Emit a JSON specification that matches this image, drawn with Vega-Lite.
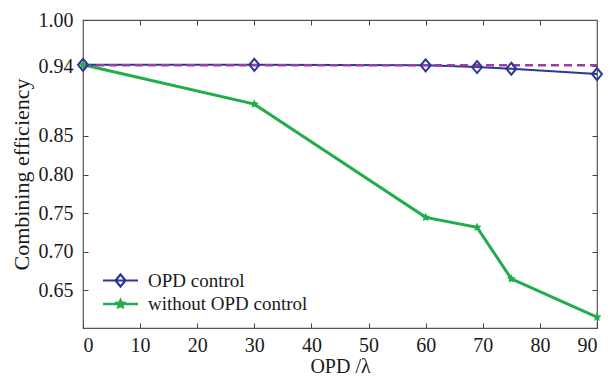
{
  "$schema": "https://vega.github.io/schema/vega-lite/v6.json",
  "width": 514,
  "height": 308,
  "autosize": {"type": "none"},
  "padding": {"left": 83, "top": 20, "right": 13, "bottom": 48},
  "background": "white",
  "config": {
    "view": {"stroke": "#555555", "strokeWidth": 1.2},
    "font": "Liberation Serif",
    "axis": {
      "domain": false,
      "grid": false,
      "tickSize": -5,
      "tickColor": "#444444",
      "tickWidth": 1,
      "labelFont": "Liberation Serif",
      "labelFontSize": 20,
      "labelColor": "#1a1a1a",
      "titleFont": "Liberation Serif",
      "titleFontSize": 20,
      "titleFontWeight": "normal",
      "titleColor": "#1a1a1a"
    },
    "legend": {"labelFont": "Liberation Serif", "labelFontSize": 19, "labelColor": "#1a1a1a"}
  },
  "data": {
    "values": [
      {"series": "OPD control", "opd": 0, "eff": 0.942},
      {"series": "OPD control", "opd": 30, "eff": 0.942},
      {"series": "OPD control", "opd": 60, "eff": 0.9413},
      {"series": "OPD control", "opd": 69, "eff": 0.9391},
      {"series": "OPD control", "opd": 75, "eff": 0.9369},
      {"series": "OPD control", "opd": 90, "eff": 0.930},
      {"series": "without OPD control", "opd": 0, "eff": 0.942},
      {"series": "without OPD control", "opd": 30, "eff": 0.8912},
      {"series": "without OPD control", "opd": 60, "eff": 0.7446},
      {"series": "without OPD control", "opd": 69, "eff": 0.7317},
      {"series": "without OPD control", "opd": 75, "eff": 0.665},
      {"series": "without OPD control", "opd": 90, "eff": 0.6154},
      {"series": "ideal", "opd": 0, "eff": 0.9415},
      {"series": "ideal", "opd": 90, "eff": 0.9415}
    ]
  },
  "layer": [
    {
      "transform": [{"filter": "datum.series === 'without OPD control'"}],
      "mark": {"type": "line", "color": "#1fae4b", "strokeWidth": 3},
      "encoding": {
        "x": {"field": "opd", "type": "quantitative", "scale": {"domain": [0, 90], "nice": false},
          "axis": {"orient": "bottom", "values": [0, 10, 20, 30, 40, 50, 60, 70, 80, 90], "title": "OPD /λ", "labelPadding": 12, "titlePadding": 1}},
        "y": {"field": "eff", "type": "quantitative", "scale": {"domain": [0.6014, 1.0], "nice": false, "zero": false},
          "axis": {"orient": "left", "values": [0.65, 0.7, 0.75, 0.8, 0.85, 0.94, 1.0], "format": ".2f", "title": "Combining efficiency", "titleFontSize": 22, "labelPadding": 15, "titlePadding": 5}}
      }
    },
    {
      "transform": [{"filter": "datum.series === 'OPD control'"}],
      "mark": {"type": "line", "color": "#2d3595", "strokeWidth": 2},
      "encoding": {
        "x": {"field": "opd", "type": "quantitative", "axis": null},
        "y": {"field": "eff", "type": "quantitative", "axis": null}
      }
    },
    {
      "transform": [{"filter": "datum.series === 'ideal'"}],
      "mark": {"type": "line", "color": "#9a3ea8", "strokeWidth": 2.5, "strokeDash": [8, 5]},
      "encoding": {
        "x": {"field": "opd", "type": "quantitative", "axis": null},
        "y": {"field": "eff", "type": "quantitative", "axis": null}
      }
    },
    {
      "transform": [{"filter": "datum.series === 'without OPD control'"}],
      "mark": {"type": "point", "shape": "M0,-1L0.294,-0.405L0.951,-0.309L0.476,0.155L0.588,0.809L0,0.5L-0.588,0.809L-0.476,0.155L-0.951,-0.309L-0.294,-0.405Z", "filled": true, "size": 85, "opacity": 1},
      "encoding": {
        "x": {"field": "opd", "type": "quantitative", "axis": null},
        "y": {"field": "eff", "type": "quantitative", "axis": null},
        "fill": {"field": "series", "type": "nominal",
          "scale": {"domain": ["without OPD control"], "range": ["#1fae4b"]},
          "legend": {
            "orient": "none", "legendX": 28, "legendY": 274.5, "title": null,
            "labelFont": "Liberation Serif", "labelFontSize": 19, "labelColor": "#1a1a1a",
            "symbolType": "M-3.5,0H3.5M0,-0.7L0.206,-0.284L0.666,-0.216L0.333,0.108L0.412,0.566L0,0.35L-0.412,0.566L-0.333,0.108L-0.666,-0.216L-0.206,-0.284Z",
            "symbolSize": 100, "labelOffset": 18, "padding": 0,
            "symbolStrokeColor": "#1fae4b", "symbolFillColor": "#1fae4b",
            "symbolStrokeWidth": 2.6
          }
        }
      }
    },
    {
      "transform": [{"filter": "datum.series === 'OPD control'"}],
      "mark": {"type": "point", "shape": "M0,-1.2L1,0L0,1.2L-1,0Z", "filled": false, "size": 100, "strokeWidth": 2, "opacity": 1},
      "encoding": {
        "x": {"field": "opd", "type": "quantitative", "axis": null},
        "y": {"field": "eff", "type": "quantitative", "axis": null},
        "color": {"field": "series", "type": "nominal",
          "scale": {"domain": ["OPD control"], "range": ["#2d3595"]},
          "legend": {
            "orient": "none", "legendX": 28, "legendY": 251, "title": null,
            "labelFont": "Liberation Serif", "labelFontSize": 19, "labelColor": "#1a1a1a",
            "symbolType": "M-3.5,0H3.5M0,-1.2L1,0L0,1.2L-1,0Z",
            "symbolSize": 100, "labelOffset": 18, "padding": 0,
            "symbolStrokeWidth": 2.2
          }
        }
      }
    },
    {
      "transform": [{"filter": "datum.series === 'ideal'"}],
      "mark": {"type": "point", "opacity": 0},
      "encoding": {
        "x": {"field": "opd", "type": "quantitative",
          "axis": {"orient": "top", "values": [10, 20, 30, 40, 50, 60, 70, 80], "labels": false, "title": null}},
        "y": {"field": "eff", "type": "quantitative",
          "axis": {"orient": "right", "values": [0.65, 0.7, 0.75, 0.8, 0.85, 0.94], "labels": false, "title": null}}
      }
    }
  ],
  "resolve": {"axis": {"x": "independent", "y": "independent"}}
}
